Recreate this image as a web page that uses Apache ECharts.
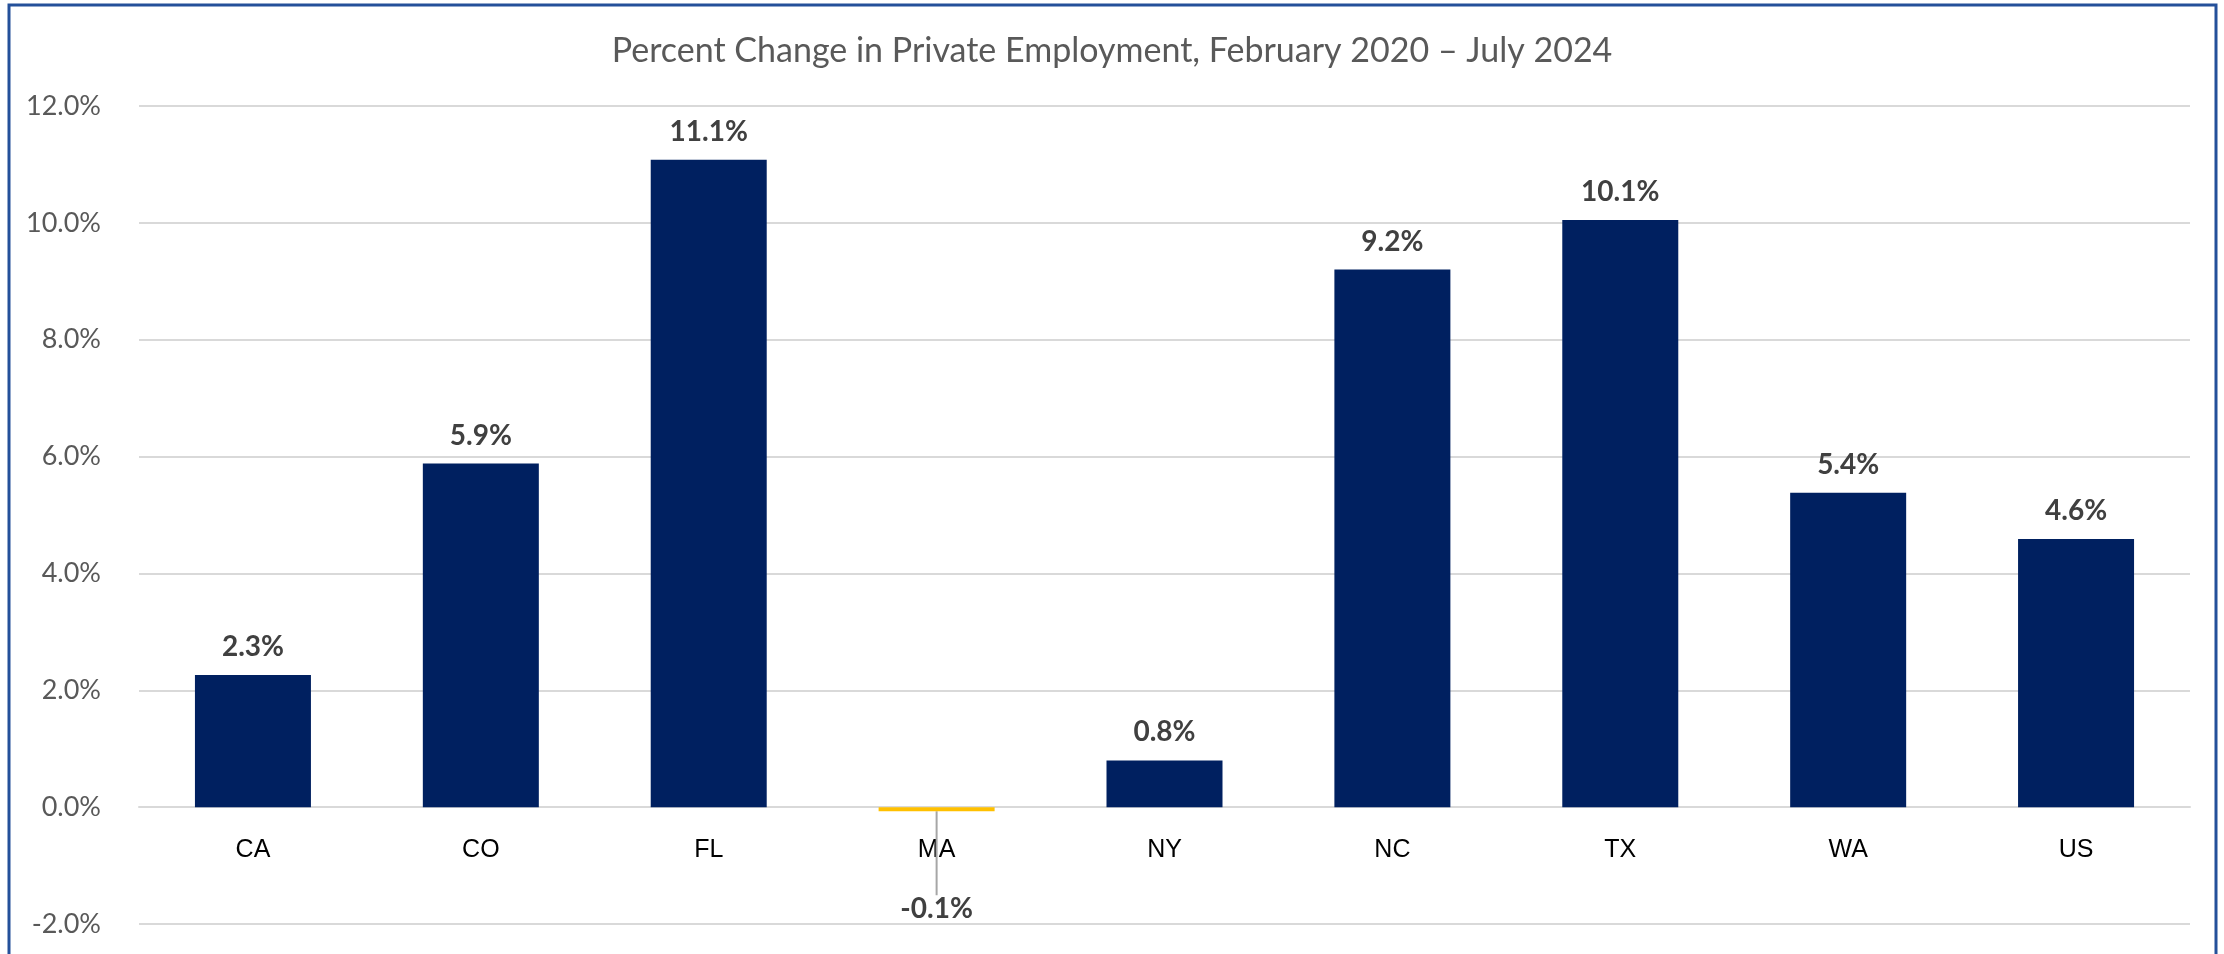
<!DOCTYPE html>
<html>
<head>
<meta charset="utf-8">
<script src="https://cdn.jsdelivr.net/npm/echarts@6/dist/echarts.min.js"></script>
<style>
  html, body { margin: 0; padding: 0; background: #fff; }
  #chart { width: 2224px; height: 954px; }
</style>
</head>
<body>
<div id="chart"></div>
<script>
const states = ['CA', 'CO', 'FL', 'MA', 'NY', 'NC', 'TX', 'WA', 'US'];
const pctChange = [2.26, 5.88, 11.08, -0.07, 0.8, 9.2, 10.05, 5.38, 4.59];
const yTicks = [-2, 0, 2, 4, 6, 8, 10, 12];

const gridTop = 106;
const gridBottom = 30;
const chartHeight = 954;

// the category axis sits on the 0% line, i.e. 2 units above the -2% floor
const yMin = yTicks[0];
const yMax = yTicks[yTicks.length - 1];
const zeroOffset = (chartHeight - gridTop - gridBottom) * (0 - yMin) / (yMax - yMin);

const chart = echarts.init(document.getElementById('chart'));

const option = {
  backgroundColor: '#fff',
  animation: false,
  title: {
    text: 'Percent Change in Private Employment, February 2020 \u2013 July 2024',
    left: 'center',
    top: 29,
    textStyle: {
      fontFamily: 'Lato',
      fontWeight: 'normal',
      fontSize: 34,
      color: '#595959'
    }
  },
  graphic: [{
    type: 'rect',
    shape: { x: 9, y: 5, width: 2207, height: 1000 },
    style: { fill: 'none', stroke: '#24509a', lineWidth: 3 },
    silent: true
  }],
  grid: {
    left: 139,
    right: 34,
    top: gridTop,
    bottom: gridBottom,
    outerBoundsMode: 'none'
  },
  xAxis: {
    type: 'category',
    data: states,
    offset: -zeroOffset,
    axisLine: { onZero: false, lineStyle: { color: '#d9d9d9', width: 2 } },
    axisTick: { show: false },
    axisLabel: {
      color: '#000',
      fontFamily: 'Liberation Sans',
      fontSize: 25,
      margin: 30
    }
  },
  yAxis: {
    type: 'value',
    min: yMin,
    max: yMax,
    interval: 2,
    axisLine: { show: false },
    axisTick: { show: false },
    axisLabel: {
      color: '#595959',
      fontFamily: 'Lato',
      fontSize: 27,
      margin: 38,
      formatter: (v) => v.toFixed(1) + '%'
    },
    splitLine: { lineStyle: { color: '#d9d9d9', width: 2 } }
  },
  series: [{
    type: 'bar',
    barWidth: 116,
    data: pctChange.map((value) => {
      const isNeg = value < 0;
      return {
        value,
        itemStyle: { color: isNeg ? '#ffc000' : '#002060' },
        label: isNeg ? { position: 'bottom', distance: 4 } : undefined,
        labelLine: isNeg ? { show: true, lineStyle: { color: '#a6a6a6', width: 2 } } : undefined
      };
    }),
    label: {
      show: true,
      position: 'top',
      distance: 14,
      color: '#404040',
      fontFamily: 'Lato',
      fontWeight: 'bold',
      fontSize: 28,
      formatter: (p) => p.value.toFixed(1) + '%'
    },
    labelLayout: (params) => {
      if (pctChange[params.dataIndex] < 0) {
        return { dy: 80 };
      }
      return {};
    }
  }]
};

chart.setOption(option);
</script>
</body>
</html>
